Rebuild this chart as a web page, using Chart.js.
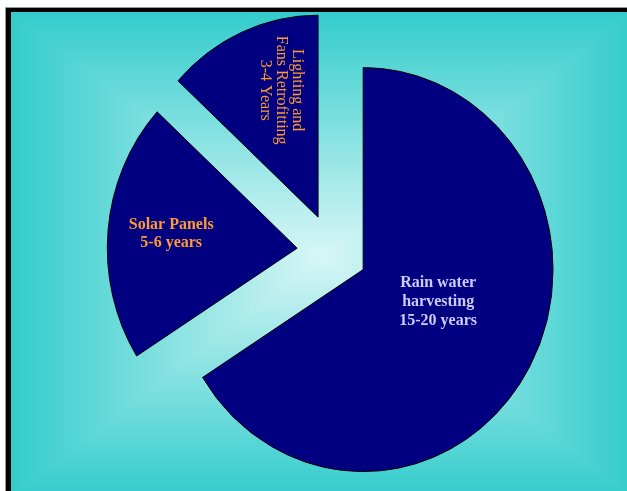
<!DOCTYPE html>
<html>
<head>
<meta charset="utf-8">
<script src="https://cdn.jsdelivr.net/npm/chart.js@4"></script>
<style>
    html, body { margin: 0; padding: 0; background: #fff; overflow: hidden; }
    #frame {
        position: absolute; left: 6px; top: 8px;
        width: 622px; height: 486px;
        border-left: 5px solid #000; border-top: 4px solid #000;
        box-shadow: -1px -1px 0 #9a9a9a;
        /* rectangular "from centre" gradient: darken of two linear ramps */
        background:
            linear-gradient(to right, #33CCCC 0%, #D8F6F6 50%, #33CCCC 100%),
            linear-gradient(to bottom, #33CCCC 0%, #D8F6F6 50%, #33CCCC 100%);
        background-blend-mode: darken;
    }
    #chart { position: absolute; left: 0; top: 0; }
</style>
</head>
<body>
<div id="frame"></div>
<canvas id="chart" width="627" height="491"></canvas>

<script>
// data
const categories = ['Rain water harvesting', 'Solar Panels', 'Lighting and Fans Retrofitting'];
const paybackYears = [17.5, 5.5, 3.5]; // mid point of 15-20, 5-6, 3-4
const labelLines = [
    ['Rain water', 'harvesting', '15-20 years'],
    ['Solar Panels', '5-6 years'],
    ['Lighting and', 'Fans Retrofitting', '3-4 Years']
];

// look
const squashX = 0.94;    // pie is a bit narrower than tall
const explode = 37.5;    // px each slice is pulled out
const labelStyle = [
    { dx: 75, dy: 32, font: 'bold 16px "Liberation Serif"', color: '#CCCCFF', lh: 19, rot: 0 },
    { dx: -126, dy: -14, font: 'bold 16px "Liberation Serif"', color: '#FF9933', lh: 18, rot: 0 },
    { dx: -37, dy: -127, font: '16px "Liberation Serif"', color: '#FF9933', lh: 16, rot: Math.PI / 2 }
];

const explodePie = {
    id: 'explodePie',
    afterDatasetUpdate(chart, args) {
        const meta = chart.getDatasetMeta(args.index);
        meta.data.forEach(arc => {
            const mid = (arc.startAngle + arc.endAngle) / 2;
            arc.x += Math.cos(mid) * explode;
            arc.y += Math.sin(mid) * explode;
        });
    },
    beforeDatasetsDraw(chart) {
        chart.ctx.save();
        chart.ctx.scale(squashX, 1);
    },
    afterDatasetsDraw(chart) {
        const ctx = chart.ctx;
        ctx.restore();
        const arcs = chart.getDatasetMeta(0).data;
        arcs.forEach((arc, i) => {
            const st = labelStyle[i];
            const lines = labelLines[i];
            ctx.save();
            ctx.translate(arc.x * squashX + st.dx, arc.y + st.dy);
            ctx.rotate(st.rot);
            ctx.font = st.font;
            ctx.fillStyle = st.color;
            ctx.textAlign = 'center';
            ctx.textBaseline = 'middle';
            lines.forEach((t, j) => {
                ctx.fillText(t, 0, (j - (lines.length - 1) / 2) * st.lh);
            });
            ctx.restore();
        });
    }
};

new Chart(document.getElementById('chart'), {
    type: 'pie',
    data: {
        labels: categories,
        datasets: [{
            data: paybackYears,
            backgroundColor: '#000080',
            borderColor: '#000000',
            borderWidth: 1,
            radius: 202,
            clip: false
        }]
    },
    options: {
        responsive: false,
        animation: false,
        events: [],
        radius: 202,
        layout: { padding: { left: 80, top: 12, right: 0, bottom: 0 } },
        plugins: {
            legend: { display: false },
            tooltip: { enabled: false }
        }
    },
    plugins: [explodePie]
});
</script>
</body>
</html>
